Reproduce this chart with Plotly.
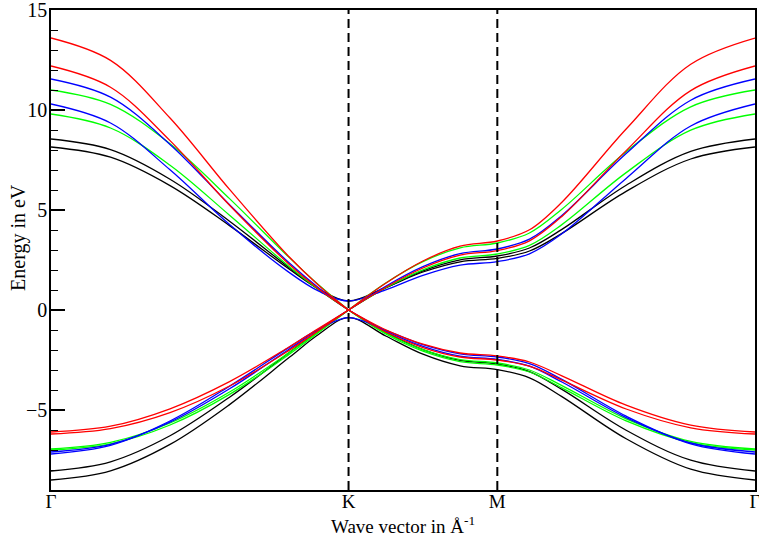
import plotly.graph_objects as go

# k-path positions (units of |ΓK|): Γ -> K -> M -> Γ
K_PATH = [0.0, 0.2, 0.4, 0.6, 0.8, 0.9, 1.0, 1.125, 1.25, 1.375, 1.5,
          1.608, 1.717, 1.933, 2.150, 2.366]
K_INDEX = 6
SYM_POS = [0.0, 1.0, 1.5, 2.366]
SYM_LABELS = ["Γ", "K", "M", "Γ"]

# Energies (eV)
BLACK_A_UP = [8.55, 8.02, 6.54, 4.44, 2.12, 1.02, 0.00, 1.10, 1.96, 2.51, 2.70, 3.10, 4.03, 6.24, 7.93, 8.55]
BLACK_B_UP = [8.15, 7.64, 6.22, 4.22, 2.05, 1.05, 0.45, 1.13, 1.90, 2.41, 2.58, 2.95, 3.83, 5.93, 7.55, 8.15]
GREEN_A_UP = [11.00, 10.28, 8.31, 5.57, 2.63, 1.25, 0.00, 1.35, 2.42, 3.11, 3.35, 3.85, 5.04, 7.91, 10.16, 11.00]
GREEN_B_UP = [9.80, 9.10, 7.24, 4.74, 2.18, 1.02, 0.00, 1.11, 2.01, 2.60, 2.80, 3.23, 4.27, 6.87, 8.99, 9.80]
BLUE_A_UP = [11.55, 10.64, 8.28, 5.27, 2.36, 1.10, 0.00, 1.19, 2.17, 2.82, 3.05, 3.54, 4.73, 7.82, 10.49, 11.55]
BLUE_B_UP = [10.30, 9.35, 7.01, 4.27, 1.88, 0.94, 0.45, 1.01, 1.73, 2.24, 2.42, 2.81, 3.81, 6.58, 9.20, 10.30]
RED_A_UP = [13.60, 12.48, 9.60, 6.03, 2.66, 1.23, 0.00, 1.34, 2.45, 3.19, 3.45, 4.01, 5.39, 9.05, 12.29, 13.60]
RED_B_UP = [12.20, 11.14, 8.47, 5.24, 2.29, 1.05, 0.00, 1.14, 2.10, 2.74, 2.97, 3.46, 4.68, 7.97, 10.97, 12.20]

BLACK_A_DN = [-8.05, -7.59, -6.29, -4.36, -2.14, -1.03, 0.00, -1.12, -1.98, -2.52, -2.70, -3.08, -3.97, -6.01, -7.51, -8.05]
BLACK_B_DN = [-8.50, -8.04, -6.72, -4.73, -2.38, -1.21, -0.38, -1.30, -2.21, -2.79, -2.98, -3.39, -4.33, -6.44, -7.96, -8.50]
GREEN_A_DN = [-6.95, -6.62, -5.65, -4.10, -2.13, -1.06, 0.00, -1.15, -1.98, -2.48, -2.65, -3.00, -3.78, -5.44, -6.57, -6.95]
GREEN_B_DN = [-7.00, -6.69, -5.75, -4.22, -2.22, -1.11, 0.00, -1.20, -2.06, -2.58, -2.75, -3.10, -3.89, -5.54, -6.63, -7.00]
BLUE_A_DN = [-7.10, -6.72, -5.61, -3.94, -1.96, -0.96, 0.00, -1.04, -1.82, -2.31, -2.47, -2.81, -3.60, -5.38, -6.65, -7.10]
BLUE_B_DN = [-7.20, -6.77, -5.55, -3.81, -1.87, -0.96, -0.38, -1.02, -1.73, -2.19, -2.35, -2.68, -3.47, -5.31, -6.69, -7.20]
RED_A_DN = [-6.10, -5.81, -4.94, -3.58, -1.85, -0.92, 0.00, -0.99, -1.71, -2.15, -2.30, -2.60, -3.29, -4.76, -5.76, -6.10]
RED_B_DN = [-6.20, -5.93, -5.13, -3.80, -2.02, -1.02, 0.00, -1.10, -1.88, -2.35, -2.50, -2.81, -3.51, -4.95, -5.89, -6.20]

BANDS = [
    ("black", BLACK_A_UP), ("black", BLACK_B_UP), ("black", BLACK_A_DN), ("black", BLACK_B_DN),
    ("#00ff00", GREEN_A_UP), ("#00ff00", GREEN_B_UP), ("#00ff00", GREEN_A_DN), ("#00ff00", GREEN_B_DN),
    ("#0000ff", BLUE_A_UP), ("#0000ff", BLUE_B_UP), ("#0000ff", BLUE_A_DN), ("#0000ff", BLUE_B_DN),
    ("#ff0000", RED_A_UP), ("#ff0000", RED_B_UP), ("#ff0000", RED_A_DN), ("#ff0000", RED_B_DN),
]

FONT = "Liberation Serif"

fig = go.Figure()
for color, ys in BANDS:
    xs = list(K_PATH)
    yv = list(ys)
    if ys[K_INDEX] == 0:  # Dirac crossing: keep sharp cone at K
        xs = K_PATH[:K_INDEX + 1] + [None] + K_PATH[K_INDEX:]
        yv = ys[:K_INDEX + 1] + [None] + ys[K_INDEX:]
    fig.add_trace(go.Scatter(x=xs, y=yv, mode="lines",
                             line=dict(color=color, width=1.3, shape="spline", smoothing=1.0),
                             connectgaps=False, showlegend=False, hoverinfo="skip"))

for xv in SYM_POS[1:3]:
    fig.add_shape(type="line", xref="x", yref="paper", x0=xv, x1=xv, y0=0, y1=1,
                  line=dict(color="black", width=2, dash="9px,5px"))

fig.update_layout(
    width=759, height=540,
    margin=dict(l=51, r=4, t=10, b=50, autoexpand=False),
    paper_bgcolor="white", plot_bgcolor="white",
    font=dict(family=FONT, size=20, color="black"),
    showlegend=False,
)
fig.update_xaxes(range=[SYM_POS[0], SYM_POS[-1]], tickmode="array", tickvals=SYM_POS,
                 ticktext=SYM_LABELS, ticks="", showgrid=False, zeroline=False, showline=True,
                 mirror=True, linecolor="black", linewidth=1.5, automargin=False,
                 ticklabelstandoff=-7, ticklabeloverflow="allow",
                 tickfont=dict(family=FONT, size=19))
fig.update_yaxes(range=[-9, 15], tickmode="linear", tick0=0, dtick=5, ticks="inside", ticklen=14,
                 tickwidth=1.5, tickcolor="black", showgrid=False, zeroline=False,
                 showline=True, mirror=True, linecolor="black", linewidth=1.5, automargin=False,
                 ticklabeloverflow="allow", ticklabelstandoff=-2,
                 tickfont=dict(family=FONT, size=20),
                 minor=dict(tickmode="linear", dtick=1, ticks="inside", ticklen=7, tickwidth=1.2,
                            tickcolor="black", showgrid=False))

fig.add_annotation(text="Energy in eV", xref="paper", yref="paper", x=-0.047, y=0.527,
                   xanchor="center", yanchor="middle", textangle=-90, showarrow=False,
                   font=dict(family=FONT, size=20))
fig.add_annotation(text="Wave vector in Å<sup>-1</sup>", xref="paper", yref="paper", x=0.5, y=-0.072,
                   xanchor="center", yanchor="middle", showarrow=False,
                   font=dict(family=FONT, size=19))

fig.write_html("out.html", post_script="document.body.style.margin='0px';",
               config={"displayModeBar": False})
